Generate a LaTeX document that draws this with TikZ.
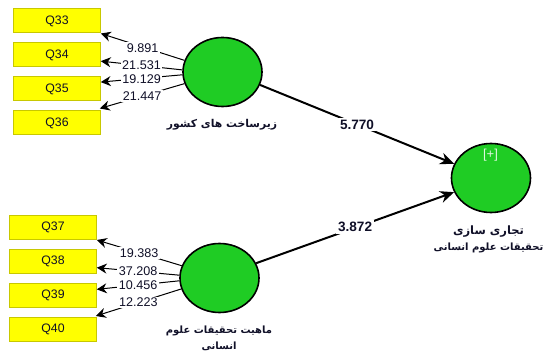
\documentclass[tikz,border=0pt]{standalone}
\usepackage{fontspec}
\setmainfont{Liberation Sans}
\newfontfamily\arabicfont[Script=Arabic]{DejaVu Sans}
\TeXXeTstate=1
\usetikzlibrary{arrows.meta,shapes.geometric}
\definecolor{boxfill}{HTML}{FFFF00}
\definecolor{boxline}{HTML}{C8C800}
\definecolor{lvfill}{HTML}{1FCC24}
\definecolor{txt}{HTML}{101028}
\tikzset{
  item/.style={draw=boxline,line width=1pt,fill=boxfill,minimum width=86.5pt,minimum height=24pt,inner sep=0pt,font=\fontsize{12.3}{14}\selectfont,text=txt},
  lv/.style={ellipse,draw=black,line width=1.6pt,fill=lvfill,minimum width=79pt,minimum height=69pt,inner sep=0pt},
  lvname/.style={font=\arabicfont\bfseries\fontsize{10}{16}\selectfont,align=center,text=txt,inner sep=0pt},
  loading/.style={draw=black,line width=1pt,-{Stealth[length=10pt,width=10pt]}},
  path/.style={draw=black,line width=2pt,-{Stealth[length=14pt,width=12pt]}},
  lnum/.style={fill=white,inner sep=1.5pt,font=\fontsize{12.6}{14}\selectfont,text=txt},
  pnum/.style={fill=white,inner sep=2pt,font=\bfseries\fontsize{13.6}{15}\selectfont,text=txt}
}
\begin{document}
\begin{tikzpicture}[x=1pt,y=-1pt]
\useasboundingbox (0,0) rectangle (544,352);
% indicators
\node[item] (q33) at (57,21) {Q33};
\node[item] (q34) at (57,55) {Q34};
\node[item] (q35) at (57,89) {Q35};
\node[item] (q36) at (57,123) {Q36};
\node[item] (q37) at (53,227.5) {Q37};
\node[item] (q38) at (53,261.5) {Q38};
\node[item] (q39) at (53,295.5) {Q39};
\node[item] (q40) at (53,329.5) {Q40};
% latent variables
\node[lv] (c1) at (222.5,72) {};
\node[lv] (c2) at (219.5,278) {};
\node[lv] (c3) at (491,178) {};
\node[font=\fontsize{13}{15}\selectfont,text=white!85!lvfill] (plus) at (490.5,155) {[+]};
% names
\node[lvname,font=\arabicfont\bfseries\fontsize{10.8}{16}\selectfont] (n1) at (222,125) {\beginR زیرساخت های کشور\endR};
\node[lvname] (n2) at (219,338.5) {\beginR ماهیت تحقیقات علوم\endR\\\beginR انسانی\endR};
\node[lvname] (n3) at (488.5,239) {{\fontsize{11.5}{16}\selectfont\beginR تجاری سازی\endR}\\\beginR تحقیقات علوم انسانی\endR};
% loadings
\draw[loading] (c1.163) -- node[lnum,pos=.5,yshift=-1pt] (l33) {9.891} (q33.south east);
\draw[loading] (c1.177) -- node[lnum,pos=.5] (l34) {21.531} (q34.-8);
\draw[loading] (c1.184) -- node[lnum,pos=.5,yshift=-1pt] (l35) {19.129} (q35.9);
\draw[loading] (c1.197) -- node[lnum,pos=.5] (l36) {21.447} ([shift={(-1,-2)}]q36.north east);
\draw[loading] (c2.162) -- node[lnum,pos=.5] (l37) {19.383} (q37.south east);
\draw[loading] (c2.176) -- node[lnum,pos=.5] (l38) {37.208} (q38.-8);
\draw[loading] (c2.184) -- node[lnum,pos=.5] (l39) {10.456} (q39.8);
\draw[loading] (c2.196) -- node[lnum,pos=.5] (l40) {12.223} ([shift={(-1,-1)}]q40.north east);
% structural paths
\draw[path] (c1.-19) -- node[pnum,pos=.5] (p1) {5.770} (c3.159);
\draw[path] (c2.22) -- node[pnum,pos=.5,yshift=1pt] (p2) {3.872} (c3.201);
\end{tikzpicture}
\end{document}
